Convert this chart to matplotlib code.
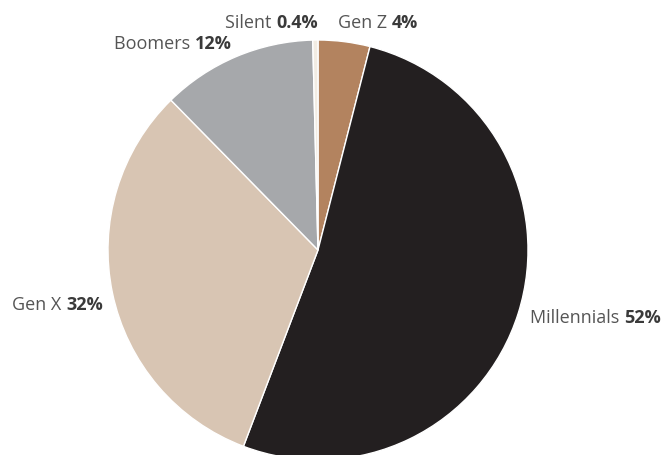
import matplotlib
matplotlib.use("Agg")
import matplotlib.pyplot as plt

# Share of each generation, clockwise from 12 o'clock
generations = ["Gen Z", "Millennials", "Gen X", "Boomers", "Silent"]
shares = [4, 52, 32, 12, 0.4]
share_labels = ["4%", "52%", "32%", "12%", "0.4%"]
colors = ["#b3835f", "#231f20", "#d8c5b3", "#a6a8ab", "#f2ece3"]

# Label anchors (data units, pie radius = 1) and alignment
label_pos = {
    "Gen Z": (0.095, 1.081, "left"),
    "Millennials": (1.010, -0.324, "left"),
    "Gen X": (-1.024, -0.262, "right"),
    "Boomers": (-0.410, 0.981, "right"),
    "Silent": (-0.443, 1.081, "left"),
}

plt.rcParams["font.family"] = ["Open Sans", "DejaVu Sans"]

fig = plt.figure(figsize=(6.67, 4.55), dpi=100)
ax = fig.add_axes([0, 0, 1, 1])

ax.pie(shares, colors=colors, startangle=90, counterclock=False,
       radius=1.0, center=(0, 0), frame=True,
       wedgeprops=dict(edgecolor="white", linewidth=1.0))
ax.set_xlim(-318 / 210, (667 - 318) / 210)
ax.set_ylim(-(455 - 250) / 210, 250 / 210)
ax.set_aspect("auto")
ax.axis("off")

text_color = "#555555"
value_color = "#3a3a3a"
fs = 13
for name, val in zip(generations, share_labels):
    x, y, ha = label_pos[name]
    if ha == "left":
        t = ax.text(x, y, name + " ", ha="left", va="center",
                    fontsize=fs, color=text_color)
        ax.annotate(val, xy=(1, 0.5), xycoords=t, ha="left", va="center",
                    fontsize=fs, color=value_color, fontweight="bold")
    else:
        t = ax.text(x, y, val, ha="right", va="center",
                    fontsize=fs, color=value_color, fontweight="bold")
        ax.annotate(name + " ", xy=(0, 0.5), xycoords=t, ha="right",
                    va="center", fontsize=fs, color=text_color)

fig.savefig("out.png", dpi=100, facecolor="white")
